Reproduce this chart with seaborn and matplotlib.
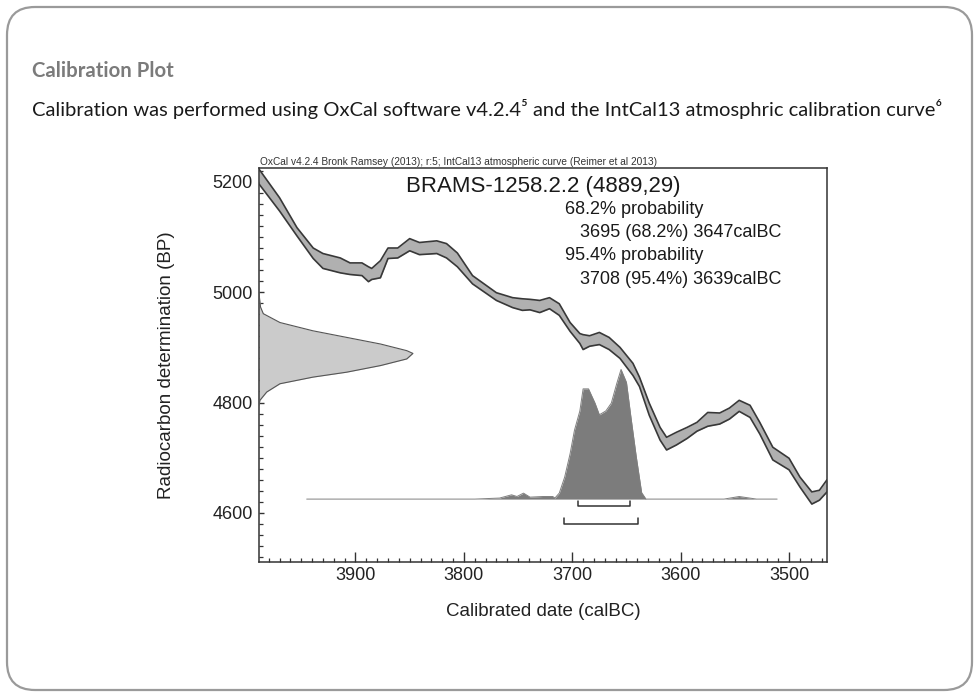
import numpy as np
import matplotlib
matplotlib.use("Agg")
import matplotlib.pyplot as plt
from matplotlib.patches import FancyBboxPatch
from matplotlib.ticker import MultipleLocator
import seaborn as sns

# -------------------- values --------------------
# IntCal13 band (1 sigma envelope), calendar years BC
cal_bc = [3989, 3970, 3954, 3939, 3930, 3914, 3905, 3894, 3888, 3885,
          3877, 3870, 3861, 3850, 3841, 3825, 3816, 3806, 3792, 3770,
          3755, 3746, 3739, 3730, 3721, 3712, 3702, 3693, 3690, 3684,
          3675, 3666, 3656, 3644, 3638, 3629, 3619, 3613, 3604, 3594,
          3585, 3575, 3564, 3555, 3546, 3536, 3527, 3515, 3500, 3490,
          3479, 3472, 3465]
curve_upper_bp = [5223, 5171, 5117, 5080, 5070, 5062, 5053, 5053, 5046, 5043,
                  5057, 5080, 5080, 5097, 5090, 5093, 5088, 5071, 5030, 4999,
                  4990, 4988, 4987, 4985, 4990, 4979, 4945, 4925, 4923, 4921,
                  4927, 4918, 4900, 4871, 4846, 4799, 4755, 4737, 4746, 4755,
                  4764, 4782, 4781, 4790, 4804, 4795, 4764, 4719, 4699, 4665,
                  4638, 4641, 4660]
curve_lower_bp = [5196, 5147, 5102, 5061, 5043, 5035, 5032, 5030, 5019, 5023,
                  5026, 5061, 5062, 5075, 5068, 5070, 5062, 5046, 5015, 4985,
                  4972, 4967, 4968, 4963, 4970, 4958, 4929, 4907, 4896, 4902,
                  4905, 4896, 4880, 4849, 4829, 4777, 4732, 4714, 4723, 4735,
                  4748, 4757, 4761, 4770, 4784, 4773, 4743, 4696, 4678, 4647,
                  4616, 4623, 4638]

# radiocarbon measurement 4889 +/- 29 BP (relative probability)
rc_bp = [5000, 4990, 4973, 4961, 4945, 4930, 4918, 4906, 4894, 4889,
         4879, 4867, 4855, 4846, 4834, 4819, 4804, 4795]
rc_prob = [0, 0.003, 0.01, 0.028, 0.136, 0.35, 0.57, 0.79, 0.96, 1.0,
           0.96, 0.79, 0.57, 0.35, 0.136, 0.05, 0.006, 0]

# calibrated date distribution (relative probability)
post_bc = [3945, 3790, 3767, 3756, 3751, 3745, 3739, 3727, 3718, 3716,
           3712, 3707, 3702, 3698, 3693, 3690, 3685, 3679, 3675, 3669,
           3664, 3659, 3655, 3650, 3646, 3641, 3636, 3632, 3560, 3546,
           3530, 3511]
post_prob = [0, 0, 0.008, 0.033, 0.02, 0.046, 0.015, 0.02, 0.02, 0.008,
             0.046, 0.17, 0.35, 0.53, 0.68, 0.85, 0.85, 0.74, 0.65, 0.68,
             0.74, 0.89, 1.0, 0.90, 0.64, 0.33, 0.05, 0.0, 0, 0.02,
             0, 0]

# highest probability ranges (from, to) calBC
range_68 = (3695, 3647)
range_95 = (3708, 3639)

sample_label = "BRAMS-1258.2.2 (4889,29)"
oxcal_note = "OxCal v4.2.4 Bronk Ramsey (2013); r:5; IntCal13 atmospheric curve (Reimer et al 2013)"
summary_lines = ["68.2% probability",
                 "   3695 (68.2%) 3647calBC",
                 "95.4% probability",
                 "   3708 (95.4%) 3639calBC"]
header = "Calibration Plot"
subtitle = ("Calibration was performed using OxCal software v4.2.4\u2075 and the "
            "IntCal13 atmosphric calibration curve\u2076")

# -------------------- figure setup --------------------
sns.set_theme(style="white")
plt.rcParams["font.family"] = ["Liberation Sans", "DejaVu Sans"]
W, H = 979, 697
fig = plt.figure(figsize=(W / 100, H / 100), dpi=100)

# slide-like frame, drawn in pixel units
bg = fig.add_axes([0, 0, 1, 1], zorder=0)
bg.set_xlim(0, W)
bg.set_ylim(H, 0)
bg.axis("off")
bg.add_patch(FancyBboxPatch((7, 7), W - 14, H - 14,
                            boxstyle="round,pad=0,rounding_size=28",
                            fc="white", ec="#9a9a9a", lw=1.6))

slide_font = ["Lato", "DejaVu Sans"]
t_head = bg.text(32, 71, header, fontsize=15, fontweight="bold",
                 color="#7b7b7b", va="center", family=slide_font)
t_sub = bg.text(32, 109, subtitle, fontsize=14, color="#1a1a1a",
                va="center", family=slide_font)

# match the text widths seen on the reference
fig.canvas.draw()
t_head.set_fontsize(15 * 142 / t_head.get_window_extent().width)
t_sub.set_fontsize(14 * 915 / t_sub.get_window_extent().width)

# -------------------- calibration plot --------------------
ax = fig.add_axes([259 / W, 1 - 562 / H, (827 - 259) / W, (562 - 168) / H], zorder=1)
ax.set_xlim(3989, 3465)
ax.set_ylim(4511, 5225)

upper = np.array(curve_upper_bp)
lower = np.array(curve_lower_bp)
ax.fill_between(cal_bc, lower, upper, color="#b0b0b0", lw=0, zorder=2)
sns.lineplot(x=cal_bc, y=upper, color="#383838", lw=1.2, ax=ax, zorder=3)
sns.lineplot(x=cal_bc, y=lower, color="#383838", lw=1.2, ax=ax, zorder=3)

# measured date on the y axis
rc_x = ax.get_xlim()[0] - np.array(rc_prob) * 142
ax.fill_betweenx(rc_bp, ax.get_xlim()[0], rc_x, color="#cbcbcb", lw=0, zorder=2)
ax.plot(rc_x, rc_bp, color="#555555", lw=0.8, zorder=3)

# calibrated distribution
base = 4625
post_y = base + np.array(post_prob) * 235
ax.fill_between(post_bc, base, post_y, color="#7c7c7c", lw=0, zorder=2)
sns.lineplot(x=post_bc, y=post_y, color="#808080", lw=0.7, ax=ax, zorder=3)

# range brackets
for (start, end), yb in [(range_68, 4612), (range_95, 4580)]:
    ax.plot([start, start, end, end], [yb + 10, yb, yb, yb + 10],
            color="#333333", lw=1.1, zorder=3)

# annotations
ax.text(0.002, 1.008, oxcal_note, transform=ax.transAxes, fontsize=7.3,
        color="#333333", va="baseline", ha="left")
ax.text(0.5, 0.939, sample_label, transform=ax.transAxes, fontsize=16,
        color="#1a1a1a", va="baseline", ha="center")
for line, yb in zip(summary_lines, [0.883, 0.825, 0.766, 0.706]):
    ax.text(0.539, yb, line, transform=ax.transAxes, fontsize=13,
            color="#1a1a1a", va="baseline", ha="left")

# axes styling
ax.xaxis.set_major_locator(MultipleLocator(100))
ax.xaxis.set_minor_locator(MultipleLocator(10))
ax.yaxis.set_major_locator(MultipleLocator(200))
ax.yaxis.set_minor_locator(MultipleLocator(20))
ax.tick_params(axis="x", which="major", direction="in", length=7, width=1,
               color="#333333", labelsize=13, labelcolor="#222222", pad=3.5,
               bottom=True)
ax.tick_params(axis="x", which="minor", direction="in", length=3.2, width=0.9,
               color="#333333", bottom=True)
ax.tick_params(axis="y", which="major", direction="in", length=3.6, width=1,
               color="#333333", labelsize=13, labelcolor="#222222", pad=4.3,
               left=True)
ax.tick_params(axis="y", which="minor", direction="in", length=2.6, width=0.9,
               color="#333333", left=True)
for sp in ax.spines.values():
    sp.set_color("#333333")
    sp.set_linewidth(1.1)

ax.set_xlabel("Calibrated date (calBC)", fontsize=13.5, color="#222222")
ax.set_ylabel("Radiocarbon determination (BP)", fontsize=13.5, color="#222222")
ax.xaxis.set_label_coords(0.5, -0.104)
ax.yaxis.set_label_coords(-0.148, 0.5)

fig.savefig("out.png", dpi=100)
